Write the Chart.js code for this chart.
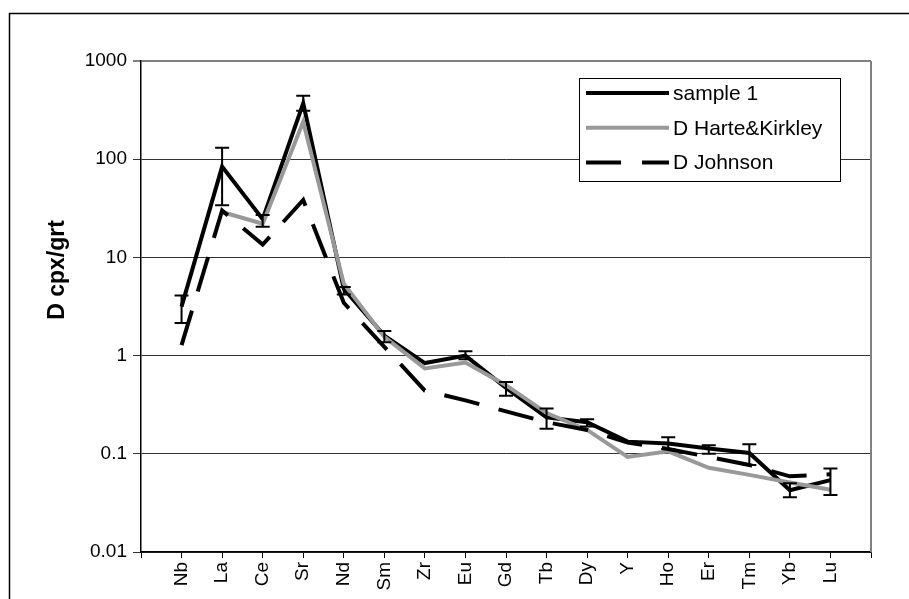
<!DOCTYPE html>
<html>
<head>
<meta charset="utf-8">
<script src="https://cdn.jsdelivr.net/npm/chart.js@4"></script>
<style>
  html, body { margin: 0; padding: 0; background: #fff; }
  #wrap { width: 909px; height: 599px; }
</style>
</head>
<body>
<div id="wrap"><canvas id="chart" width="909" height="599"></canvas></div>
<script>
// element categories
const elements = ["Nb", "La", "Ce", "Sr", "Nd", "Sm", "Zr", "Eu", "Gd", "Tb", "Dy", "Y", "Ho", "Er", "Tm", "Yb", "Lu"];

// D cpx/grt values
const sample1 = [3.15, 84, 24.5, 370, 4.8, 1.6, 0.84, 1.0, 0.47, 0.235, 0.21, 0.133, 0.127, 0.113, 0.102, 0.0425, 0.054];
const harteKirkley = [null, 29, 22, 240, 5.4, 1.55, 0.74, 0.85, 0.5, 0.26, 0.175, 0.093, 0.106, 0.072, 0.061, 0.051, 0.043];
const johnson = [1.28, 30, 13.5, 38.5, 3.45, 1.23, 0.44, 0.35, 0.27, 0.21, 0.175, 0.13, 0.112, 0.093, 0.077, 0.059, 0.062];

// error bars of sample 1
const errLow = [2.15, 34, 20.5, 312, 4.2, 1.37, null, 0.92, 0.39, 0.18, 0.19, null, 0.112, 0.1, 0.077, 0.036, 0.038];
const errHigh = [4.1, 131, 27, 443, 5.0, 1.78, null, 1.11, 0.54, 0.29, 0.225, null, 0.147, 0.122, 0.125, 0.05, 0.071];

// y tick labels
const yTicks = [0.01, 0.1, 1, 10, 100, 1000];

const FONT = "'Liberation Sans', Arial, sans-serif";

// pad the category axis with an empty slot at each end
const labels = ["", ...elements, ""];
const pad = (arr) => [null, ...arr, null];

const frame = {
  id: "frame",
  beforeDraw(chart) {
    const c = chart.ctx;
    c.save();
    c.fillStyle = "#fff";
    c.fillRect(0, 0, chart.width, chart.height);
    c.strokeStyle = "#000";
    c.lineWidth = 1.5;
    c.beginPath();
    c.moveTo(9.5, chart.height + 2);
    c.lineTo(9.5, 13.5);
    c.lineTo(chart.width + 2, 13.5);
    c.stroke();
    c.restore();
  },
  afterDraw(chart) {
    const c = chart.ctx;
    const a = chart.chartArea;
    c.save();
    // right border of plot area
    c.strokeStyle = "#808080";
    c.lineWidth = 2;
    c.beginPath();
    c.moveTo(a.right, a.top);
    c.lineTo(a.right, a.bottom);
    c.stroke();
    // y axis title
    c.translate(58, 270);
    c.rotate(-Math.PI / 2);
    c.fillStyle = "#000";
    c.font = "bold 23px " + FONT;
    c.textAlign = "center";
    c.textBaseline = "middle";
    c.fillText("D cpx/grt", 0, 0);
    c.restore();

    // legend box
    c.save();
    c.fillStyle = "#fff";
    c.fillRect(579.5, 78.5, 261, 103);
    c.strokeStyle = "#000";
    c.lineWidth = 1;
    c.strokeRect(579.5, 78.5, 261, 103);
    chart.data.datasets.forEach((ds, i) => {
      const y = 93 + i * 34.8;
      c.strokeStyle = ds.borderColor;
      c.lineWidth = ds.borderWidth;
      c.setLineDash(ds.borderDash ? [35, 21] : []);
      c.beginPath();
      c.moveTo(586, y);
      c.lineTo(669, y);
      c.stroke();
      c.setLineDash([]);
      c.fillStyle = "#000";
      c.font = "21px " + FONT;
      c.textAlign = "left";
      c.textBaseline = "middle";
      c.fillText(ds.label, 673, y + 1);
    });
    c.restore();
  },
};

const errorBars = {
  id: "errorBars",
  afterDatasetsDraw(chart) {
    const c = chart.ctx;
    const xs = chart.scales.x;
    const ys = chart.scales.y;
    c.save();
    c.strokeStyle = "#000";
    c.lineWidth = 2;
    elements.forEach((el, i) => {
      if (errLow[i] == null) return;
      const x = xs.getPixelForValue(i + 1);
      const y1 = ys.getPixelForValue(errLow[i]);
      const y2 = ys.getPixelForValue(errHigh[i]);
      c.beginPath();
      c.moveTo(x, y1);
      c.lineTo(x, y2);
      c.moveTo(x - 7, y1);
      c.lineTo(x + 7, y1);
      c.moveTo(x - 7, y2);
      c.lineTo(x + 7, y2);
      c.stroke();
    });
    c.restore();
  },
};

new Chart(document.getElementById("chart").getContext("2d"), {
  type: "line",
  data: {
    labels: labels,
    datasets: [
      {
        label: "sample 1",
        data: pad(sample1),
        borderColor: "#000",
        borderWidth: 4,
        pointRadius: 0,
        order: 3,
      },
      {
        label: "D Harte&Kirkley",
        data: pad(harteKirkley),
        borderColor: "#999999",
        borderWidth: 4,
        pointRadius: 0,
        order: 2,
      },
      {
        label: "D Johnson",
        data: pad(johnson),
        borderColor: "#000",
        borderWidth: 4,
        borderDash: [36, 20],
        pointRadius: 0,
        order: 1,
      },
    ],
  },
  options: {
    responsive: false,
    animation: false,
    spanGaps: false,
    layout: { padding: { top: 61, right: 38, left: 0, bottom: 0 } },
    plugins: {
      legend: { display: false },
      tooltip: { enabled: false },
    },
    scales: {
      x: {
        type: "category",
        offset: false,
        grid: {
          drawOnChartArea: false,
          drawTicks: true,
          tickLength: 6,
          color: "#000",
          lineWidth: 1,
        },
        border: { color: "#000", width: 1.5 },
        ticks: {
          autoSkip: false,
          maxRotation: 90,
          minRotation: 90,
          color: "#000",
          padding: 4,
          font: { family: FONT, size: 19 },
        },
        afterFit(s) {
          s.height = 47;
        },
      },
      y: {
        type: "logarithmic",
        min: 0.01,
        max: 1000,
        afterBuildTicks(s) {
          s.ticks = yTicks.map((v) => ({ value: v }));
        },
        afterFit(s) {
          s.width = 141;
        },
        grid: {
          tickLength: 8,
          color: (ctx) => (ctx.tick && ctx.tick.value === 1000 ? "#808080" : "#333"),
          lineWidth: (ctx) => (ctx.tick && ctx.tick.value === 1000 ? 2 : 1),
        },
        border: { color: "#000", width: 1.5 },
        ticks: {
          color: "#000",
          padding: 6,
          font: { family: FONT, size: 19 },
          callback: (v) => String(v),
        },
      },
    },
  },
  plugins: [frame, errorBars],
});
</script>
</body>
</html>
